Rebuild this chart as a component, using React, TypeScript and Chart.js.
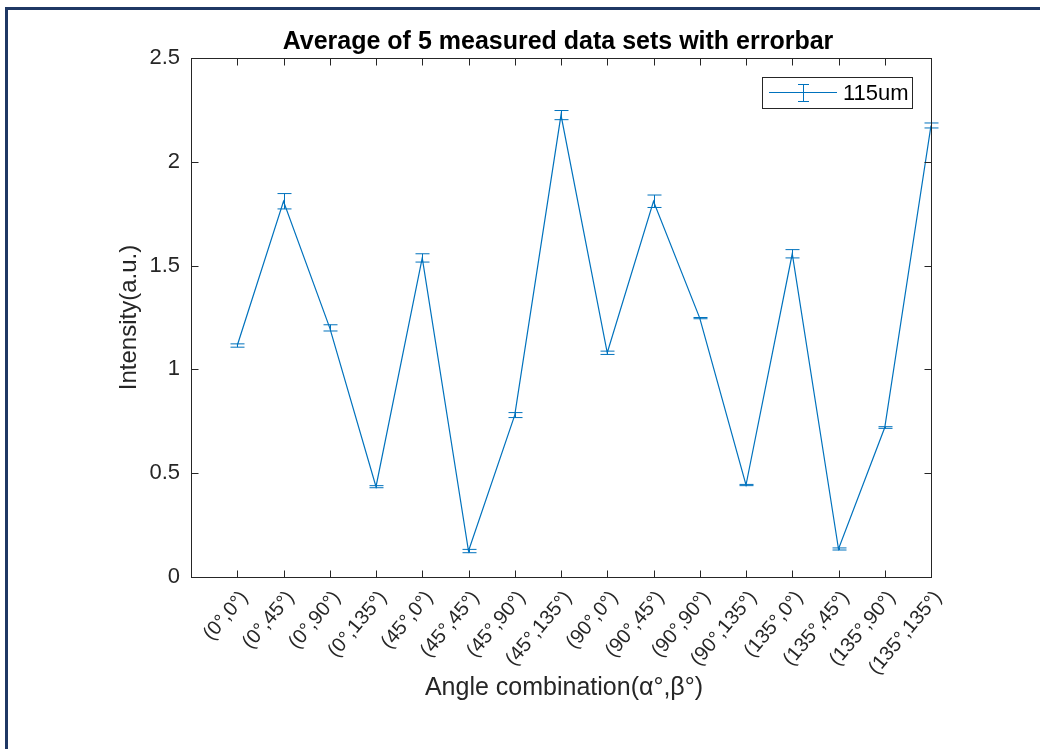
import React, { useEffect, useRef } from "react";
import { Chart, registerables } from "chart.js";

Chart.register(...registerables);

const categories = [
  "(0°,0°)", "(0°,45°)", "(0°,90°)", "(0°,135°)",
  "(45°,0°)", "(45°,45°)", "(45°,90°)", "(45°,135°)",
  "(90°,0°)", "(90°,45°)", "(90°,90°)", "(90°,135°)",
  "(135°,0°)", "(135°,45°)", "(135°,90°)", "(135°,135°)",
];
const means = [1.115, 1.81, 1.2, 0.435, 1.537, 0.125, 0.78, 2.225, 1.08, 1.81, 1.247, 0.443, 1.557, 0.135, 0.72, 2.175];
const errs = [0.008, 0.037, 0.015, 0.005, 0.02, 0.008, 0.012, 0.022, 0.008, 0.03, 0.003, 0.003, 0.02, 0.005, 0.004, 0.012];
const yTicks = [0, 0.5, 1, 1.5, 2, 2.5];
const seriesName = "115um";
const titleText = "Average of 5 measured data sets with errorbar";
const xTitle = "Angle combination(α°,β°)";
const yTitle = "Intensity(a.u.)";

const BLUE = "#0072BD";
const AX = "#262626";
const FONT = "'Liberation Sans', Arial, Helvetica, sans-serif";

const drawPlugin = {
  id: "matlabLook",
  beforeDraw(chart: any) {
    const { ctx, width, height } = chart;
    ctx.save();
    ctx.fillStyle = "#ffffff";
    ctx.fillRect(0, 0, width, height);
    ctx.fillStyle = "#1f3864";
    ctx.fillRect(5, 7, width - 5, 3);
    ctx.fillRect(5, 7, 3, height - 7);
    ctx.restore();
  },
  afterDatasetsDraw(chart: any) {
    const { ctx } = chart;
    const xs = chart.scales.x;
    const ys = chart.scales.y;
    ctx.save();
    ctx.strokeStyle = BLUE;
    ctx.lineWidth = 1;
    means.forEach((m, i) => {
      const px = Math.round(xs.getPixelForValue(i + 1)) + 0.5;
      const top = ys.getPixelForValue(m + errs[i]);
      const bot = ys.getPixelForValue(m - errs[i]);
      ctx.beginPath();
      ctx.moveTo(px, top);
      ctx.lineTo(px, bot);
      ctx.moveTo(px - 7, top);
      ctx.lineTo(px + 7, top);
      ctx.moveTo(px - 7, bot);
      ctx.lineTo(px + 7, bot);
      ctx.stroke();
    });
    ctx.restore();
  },
  afterDraw(chart: any) {
    const { ctx, chartArea } = chart;
    const { left, right, top, bottom } = chartArea;
    const xs = chart.scales.x;
    const ys = chart.scales.y;
    ctx.save();
    ctx.strokeStyle = AX;
    ctx.lineWidth = 1;
    const L = Math.round(left) + 0.5;
    const R = Math.round(right) + 0.5;
    const T = Math.round(top) + 0.5;
    const B = Math.round(bottom) + 0.5;
    ctx.strokeRect(L, T, R - L, B - T);
    ctx.beginPath();
    for (let i = 1; i <= categories.length; i++) {
      const px = Math.round(xs.getPixelForValue(i)) + 0.5;
      ctx.moveTo(px, B);
      ctx.lineTo(px, B - 7);
      ctx.moveTo(px, T);
      ctx.lineTo(px, T + 7);
    }
    yTicks.forEach((v) => {
      const py = Math.round(ys.getPixelForValue(v)) + 0.5;
      ctx.moveTo(L, py);
      ctx.lineTo(L + 7, py);
      ctx.moveTo(R, py);
      ctx.lineTo(R - 7, py);
    });
    ctx.stroke();

    // rotated category labels
    ctx.fillStyle = AX;
    ctx.font = `20px ${FONT}`;
    ctx.textAlign = "right";
    ctx.textBaseline = "middle";
    const ang = (50 * Math.PI) / 180;
    categories.forEach((c, i) => {
      const px = xs.getPixelForValue(i + 1);
      ctx.save();
      ctx.translate(px + 7, bottom + 17);
      ctx.rotate(-ang);
      ctx.fillText(c, 0, 0);
      ctx.restore();
    });

    // title
    ctx.fillStyle = "#000000";
    ctx.font = `bold 25px ${FONT}`;
    ctx.textAlign = "center";
    ctx.textBaseline = "alphabetic";
    ctx.fillText(titleText, 558, 49);

    // axis titles
    ctx.fillStyle = AX;
    ctx.font = `25px ${FONT}`;
    ctx.textBaseline = "middle";
    ctx.fillText(xTitle, 564, 688);
    ctx.save();
    ctx.translate(129, (top + bottom) / 2);
    ctx.rotate(-Math.PI / 2);
    ctx.font = `24px ${FONT}`;
    ctx.fillText(yTitle, 0, 0);
    ctx.restore();

    // legend
    const lx0 = 762.5, ly0 = 77.5, lx1 = 912.5, ly1 = 108.5;
    ctx.fillStyle = "#ffffff";
    ctx.fillRect(lx0, ly0, lx1 - lx0, ly1 - ly0);
    ctx.strokeStyle = AX;
    ctx.strokeRect(lx0, ly0, lx1 - lx0, ly1 - ly0);
    const my = 92.5;
    ctx.strokeStyle = BLUE;
    ctx.beginPath();
    ctx.moveTo(769, my);
    ctx.lineTo(837, my);
    ctx.moveTo(803.5, 84);
    ctx.lineTo(803.5, 102);
    ctx.moveTo(798, 84.5);
    ctx.lineTo(809, 84.5);
    ctx.moveTo(798, 101.5);
    ctx.lineTo(809, 101.5);
    ctx.stroke();
    ctx.fillStyle = "#000000";
    ctx.font = `22px ${FONT}`;
    ctx.textAlign = "left";
    ctx.textBaseline = "middle";
    ctx.fillText(seriesName, 843, my + 1);
    ctx.restore();
  },
};

export default function App() {
  const ref = useRef<HTMLCanvasElement | null>(null);
  useEffect(() => {
    if (!ref.current) return;
    const chart = new Chart(ref.current, {
      type: "line",
      data: {
        datasets: [
          {
            label: seriesName,
            data: means.map((m, i) => ({ x: i + 1, y: m })),
            borderColor: BLUE,
            borderWidth: 1.2,
            pointRadius: 0,
            tension: 0,
            fill: false,
          },
        ],
      },
      options: {
        animation: false,
        responsive: true,
        maintainAspectRatio: false,
        layout: { padding: { top: 58, right: 109, left: 0, bottom: 0 } },
        plugins: {
          legend: { display: false },
          title: { display: false },
          tooltip: { enabled: false },
        },
        scales: {
          x: {
            type: "linear",
            min: 0,
            max: categories.length,
            grid: { display: false, drawTicks: false },
            border: { display: false },
            afterFit: (s: any) => {
              s.height = 172;
            },
            afterBuildTicks: (s: any) => {
              s.ticks = categories.map((_, i) => ({ value: i + 1 }));
            },
            ticks: { display: false },
          },
          y: {
            min: 0,
            max: 2.5,
            grid: { display: false, drawTicks: false },
            border: { display: false },
            afterFit: (s: any) => {
              s.width = 191;
            },
            afterBuildTicks: (s: any) => {
              s.ticks = yTicks.map((v) => ({ value: v }));
            },
            ticks: {
              padding: 11,
              color: AX,
              font: { family: FONT, size: 22 },
              callback: (v: any) => String(v),
            },
          },
        },
      },
      plugins: [drawPlugin],
    } as any);
    return () => chart.destroy();
  }, []);
  return (
    <div style={{ position: "fixed", left: 0, top: 0, width: 1040, height: 749, background: "#fff" }}>
      <canvas ref={ref} />
    </div>
  );
}
